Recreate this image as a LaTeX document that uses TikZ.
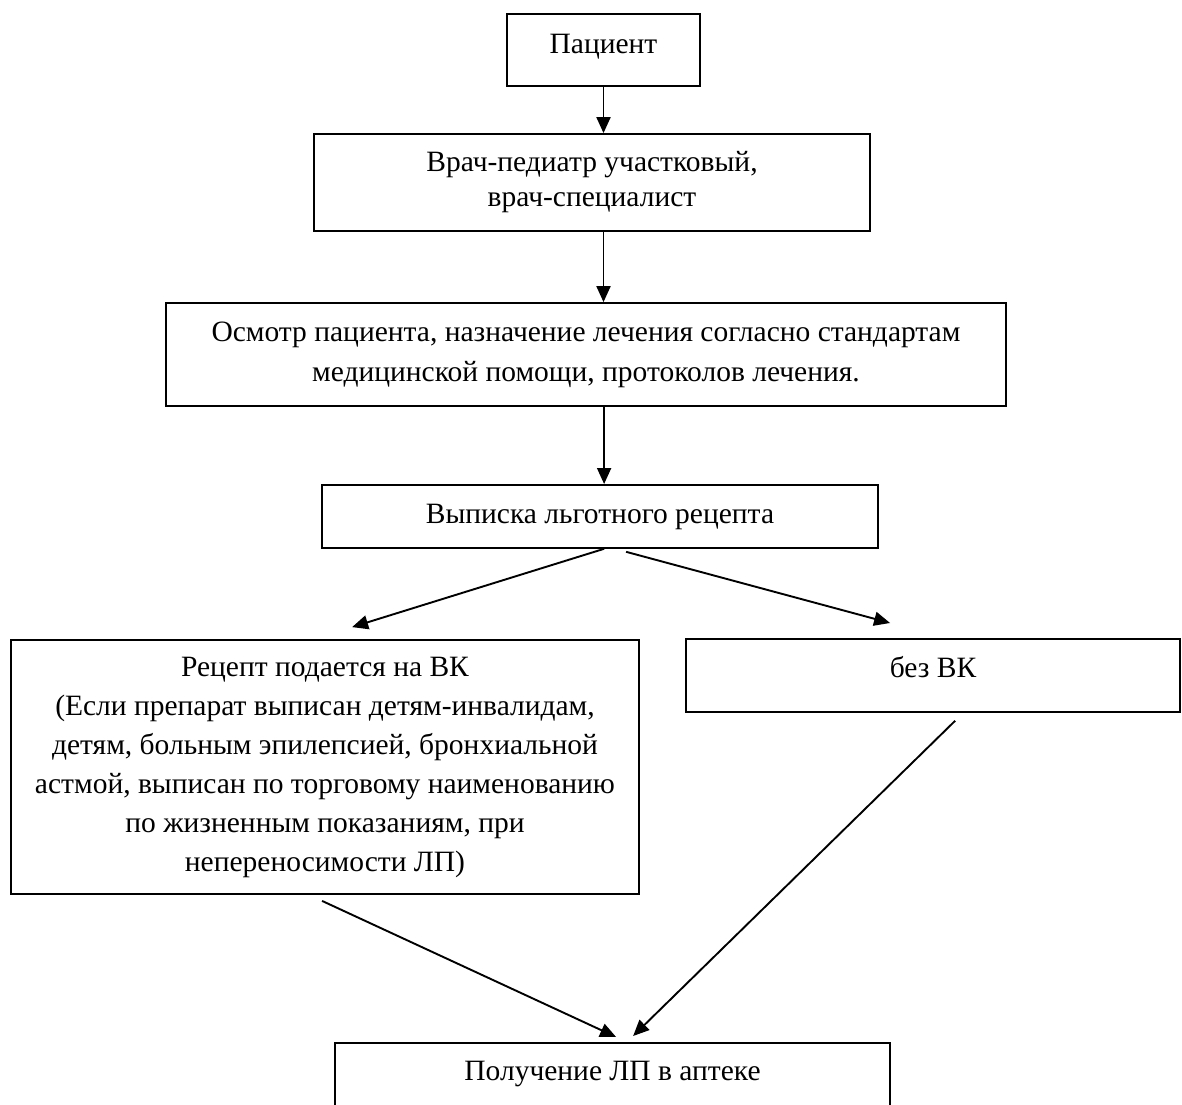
\documentclass[tikz,border=0pt]{standalone}
\usepackage{fontspec}
\setmainfont{Liberation Serif}
\usetikzlibrary{arrows.meta,calc}
\begin{document}
\begin{tikzpicture}[x=1pt,y=-1pt,
  boxone/.style={draw,line width=1.8pt,inner sep=0pt,font=\fontsize{29.5}{39}\selectfont},
  boxmulti/.style={draw,line width=1.8pt,inner sep=0pt,align=center},
  arr/.style={line width=1.9pt,-{Triangle[length=16pt,width=14pt]}}]
\useasboundingbox (0,0) rectangle (1182,1104);
\fill[white] (0,0) rectangle (1182,1104);
\node[boxone,anchor=north,minimum width=193pt,text height=40pt,text depth=32pt] (b1) at (603.5,13) {Пациент};
\node[boxmulti,minimum width=556pt,minimum height=97pt,font=\fontsize{29.5}{35}\selectfont] (b2) at (592,182.5) {Врач-педиатр участковый,\\врач-специалист};
\node[boxmulti,minimum width=840pt,minimum height=103pt,font=\fontsize{29.5}{40}\selectfont] (b3) at (586,354.5) {Осмотр пациента, назначение лечения согласно стандартам\\медицинской помощи, протоколов лечения.};
\node[boxone,anchor=north,minimum width=556pt,text height=39pt,text depth=24pt] (b4) at (600,484) {Выписка льготного рецепта};
\node[boxmulti,minimum width=628pt,minimum height=254pt,font=\fontsize{29.5}{39}\selectfont] (b5) at (325,767) {Рецепт подается на ВК\\(Если препарат выписан детям-инвалидам,\\детям, больным эпилепсией, бронхиальной\\астмой, выписан по торговому наименованию\\по жизненным показаниям, при\\непереносимости ЛП)};
\node[boxone,anchor=north,minimum width=494pt,text height=39pt,text depth=34pt] (b6) at (933,638) {без ВК};
\node[boxone,anchor=north,minimum width=555pt,text height=38pt,text depth=42pt] (b7) at (612.5,1042) {Получение ЛП в аптеке};
\coordinate (s4) at ($(b4.south west)+(283,0)$);
\coordinate (s5) at ($(b4.south west)+(305,3)$);
\coordinate (t4) at ($(b5.north west)+(342,-12)$);
\coordinate (t5) at ($(b6.north west)+(205,-15)$);
\coordinate (s6) at ($(b5.south west)+(312,6)$);
\coordinate (t6) at ($(b7.north west)+(282,-5)$);
\coordinate (s7) at ($(b6.south west)+(270,8)$);
\coordinate (t7) at ($(b7.north west)+(299,-6)$);
\draw[arr] (b1.south) -- (b1.south |- b2.north);
\draw[arr] (b2.south -| b1.south) -- (b3.north -| b1.south);
\draw[arr] (b3.south -| s4) -- (b4.north -| s4);
\draw[arr] (s4) -- (t4);
\draw[arr] (s5) -- (t5);
\draw[arr] (s6) -- (t6);
\draw[arr] (s7) -- (t7);
\end{tikzpicture}
\end{document}
